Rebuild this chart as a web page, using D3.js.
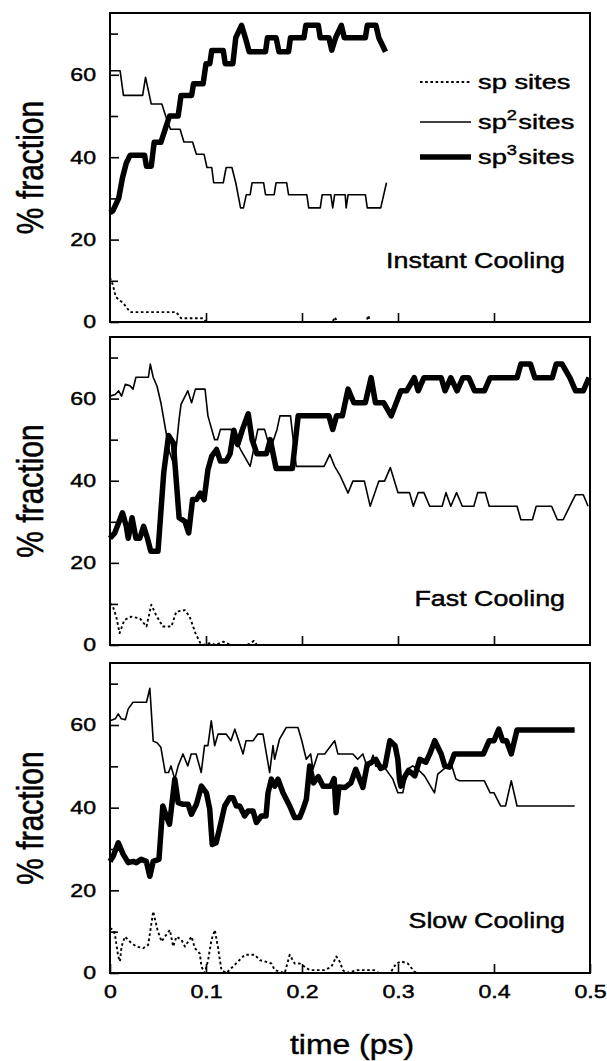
<!DOCTYPE html>
<html>
<head>
<meta charset="utf-8">
<script src="https://cdn.jsdelivr.net/npm/d3@7"></script>
<style>
body { margin: 0; background: #fff; }
svg text { font-family: "Liberation Sans", Arial, Helvetica, sans-serif; fill: #000; stroke: #000; stroke-width: 0.45px; }
</style>
</head>
<body>
<svg width="607" height="1061"></svg>
<script>
// ticks
var yMajor = [0, 20, 40, 60];
var yMinor = [10, 30, 50, 70];
var xInner = [0.1, 0.2, 0.3, 0.4];
var xLabels = [0, 0.1, 0.2, 0.3, 0.4, 0.5];
var panelNames = ["Instant Cooling", "Fast Cooling", "Slow Cooling"];

// [time (ps), % fraction]
var inst_sp = [[0,10.8],[0.003,9],[0.006,6.1],[0.014,4.5],[0.021,2.4],[0.069,2.4],[0.074,0.9],[0.097,0.9],[0.1,0],
  [0.232,0],[0.234,1.2],[0.237,0],[0.267,0],[0.269,1.6],[0.271,0]];
var inst_sp2 = [[0,61],[0.0105,61],[0.014,55],[0.034,55],[0.037,59.4],[0.043,52.9],[0.054,52.9],[0.058,50],[0.063,46.8],
  [0.073,46.8],[0.077,43.7],[0.086,43.7],[0.09,40.7],[0.098,40.7],[0.101,37.5],[0.106,37.5],[0.108,33.8],[0.118,33.8],
  [0.121,37.5],[0.127,37.5],[0.131,33.8],[0.136,27.7],[0.139,27.7],[0.142,30.9],[0.146,30.9],[0.148,33.8],[0.16,33.8],
  [0.162,30.9],[0.171,30.9],[0.173,33.8],[0.184,33.8],[0.186,30.9],[0.205,30.9],[0.207,27.7],[0.219,27.7],[0.221,30.9],
  [0.23,30.9],[0.232,27.7],[0.234,30.9],[0.245,30.9],[0.246,27.7],[0.248,30.9],[0.266,30.9],[0.268,27.7],[0.282,27.7],[0.288,33.8]];
var inst_sp3 = [[0,26.5],[0.003,27],[0.009,30],[0.013,35],[0.017,38.6],[0.021,40.5],[0.036,40.5],[0.038,37.8],[0.043,37.8],
  [0.046,43.6],[0.053,43.6],[0.0575,46.8],[0.062,50],[0.071,50],[0.074,55],[0.085,55],[0.087,57.8],[0.097,57.8],[0.1,62.7],
  [0.104,62.7],[0.106,65.9],[0.118,65.9],[0.12,62.7],[0.128,62.7],[0.131,69],[0.137,72],[0.141,69],[0.145,65.6],[0.162,65.6],
  [0.164,69],[0.173,69],[0.176,65.6],[0.186,65.6],[0.188,69],[0.202,69],[0.204,72],[0.217,72],[0.219,69],[0.228,69],
  [0.231,66],[0.235,69],[0.241,72],[0.244,69],[0.266,69],[0.268,72],[0.277,72],[0.28,69],[0.287,65.6]];

var fast_sp = [[0,10.2],[0.003,9.4],[0.0065,6.9],[0.01,2.9],[0.015,6.1],[0.022,6.9],[0.031,6.5],[0.038,4.5],[0.043,9.8],
  [0.048,7.3],[0.055,4.5],[0.064,4.5],[0.069,8.1],[0.078,8.5],[0.083,6.9],[0.089,2.9],[0.094,0.5],[0.097,0],[0.105,0.5],
  [0.11,0],[0.118,0.8],[0.121,0.5],[0.126,0],[0.143,0],[0.15,1],[0.153,0]];
var fast_sp2 = [[0,60.6],[0.0055,61],[0.009,61.9],[0.012,60.6],[0.016,63.5],[0.021,63.1],[0.024,62.3],[0.027,65.2],[0.04,65.2],
  [0.042,68.4],[0.045,65.2],[0.049,63],[0.053,59],[0.0575,53],[0.062,47],[0.067,43.5],[0.072,55],[0.074,58.6],[0.081,61.9],
  [0.085,59],[0.089,62.3],[0.099,62.3],[0.102,55.8],[0.109,50],[0.112,50],[0.115,52.5],[0.126,52.5],[0.136,47.6],[0.146,43.5],
  [0.154,52.5],[0.161,52.5],[0.167,47.6],[0.174,52.5],[0.177,55.8],[0.188,55.8],[0.194,43.5],[0.223,43.5],[0.229,46.4],
  [0.234,43.5],[0.24,41.1],[0.248,37],[0.253,39.9],[0.265,39.9],[0.271,33.8],[0.28,39.9],[0.286,39.9],[0.292,43.2],[0.3,37.1],
  [0.312,37.1],[0.316,33.8],[0.321,37.1],[0.327,37.1],[0.333,33.8],[0.346,33.8],[0.35,37.1],[0.355,33.8],[0.361,37.1],
  [0.367,33.8],[0.379,33.8],[0.383,37.1],[0.391,37.1],[0.395,33.8],[0.424,33.8],[0.428,30.5],[0.44,30.5],[0.444,33.8],
  [0.46,33.8],[0.466,30.5],[0.472,30.5],[0.479,33.8],[0.485,36.6],[0.493,36.6],[0.498,33.8]];
var fast_sp3 = [[0,26],[0.005,27.3],[0.013,32.2],[0.017,28.9],[0.019,26],[0.023,31],[0.027,26],[0.031,26],[0.035,28.9],
  [0.039,26],[0.0425,22.8],[0.05,22.8],[0.056,42],[0.061,51],[0.066,49.2],[0.072,31],[0.078,30.1],[0.082,27.3],[0.086,35.4],
  [0.09,35.4],[0.094,37],[0.098,35.4],[0.102,42.7],[0.106,46],[0.111,47.6],[0.115,44.8],[0.121,44.8],[0.125,46.5],[0.129,52.3],
  [0.133,48.8],[0.138,52.5],[0.144,56.3],[0.148,50],[0.153,46.6],[0.163,46.6],[0.167,50],[0.173,43],[0.19,43],[0.196,55.8],
  [0.228,55.8],[0.232,52.5],[0.236,55.8],[0.242,55.8],[0.248,62.3],[0.254,59],[0.266,59],[0.272,65.1],[0.2765,59],[0.285,59],
  [0.293,55.8],[0.303,61.9],[0.309,61.9],[0.317,65.1],[0.321,61.9],[0.327,65.1],[0.345,65.1],[0.349,61.9],[0.355,65.1],
  [0.3615,61.9],[0.3676,65.1],[0.3737,65.1],[0.3798,61.9],[0.39,61.9],[0.396,65.1],[0.424,65.1],[0.428,68.4],[0.438,68.4],
  [0.4425,65.1],[0.4607,65.1],[0.4648,68.4],[0.4709,68.4],[0.479,65.1],[0.485,61.9],[0.493,61.9],[0.499,65.1]];

var slow_sp = [[0,10.9],[0.0034,10.4],[0.0052,9.2],[0.0086,4],[0.0104,2.8],[0.012,6.4],[0.0156,8.8],[0.0225,7.2],[0.0277,6.4],
  [0.0346,6],[0.0398,6.8],[0.045,14.9],[0.0495,10.4],[0.0537,7.6],[0.0572,8.8],[0.0624,10.4],[0.0658,6.4],[0.0693,8.8],
  [0.0745,8],[0.078,6.4],[0.0849,8.8],[0.0884,6],[0.0936,4.7],[0.0953,1.5],[0.0988,0],[0.1022,3.1],[0.1057,8],[0.1092,10.4],
  [0.1126,6],[0.1161,0.7],[0.1213,0],[0.1265,1.2],[0.1334,2.8],[0.1404,4.4],[0.1508,4.4],[0.156,3.1],[0.1612,2.8],[0.1681,2.3],
  [0.1716,0.7],[0.182,0],[0.1872,4.4],[0.1924,2.3],[0.1976,2.3],[0.2028,1.5],[0.208,0.7],[0.2236,0.7],[0.2306,1.5],[0.2358,4],
  [0.2392,2.8],[0.2426,0.7],[0.2461,0],[0.258,0.7],[0.275,0.7],[0.28,0],[0.292,0],[0.2981,2.3],[0.3033,2.8],[0.3102,2.3],
  [0.3172,0.3],[0.3206,0]];
var slow_sp2 = [[0,61],[0.0055,61.5],[0.0086,62.7],[0.0118,61.5],[0.016,61.3],[0.019,63.9],[0.024,65.5],[0.038,65.5],
  [0.0415,68.9],[0.045,56.1],[0.049,55.7],[0.053,54.6],[0.0575,48.5],[0.061,48.5],[0.0635,50.1],[0.0675,46.9],[0.071,50.1],
  [0.076,53],[0.081,50.1],[0.0846,53],[0.0897,53],[0.095,48.5],[0.0985,55],[0.102,55],[0.1055,61],[0.109,55],[0.1126,57.8],
  [0.121,57.8],[0.126,56.2],[0.13,59],[0.1334,56.6],[0.1386,53],[0.1417,56.2],[0.149,56.2],[0.154,57.8],[0.1594,57.8],
  [0.1663,48.5],[0.1698,55],[0.1715,51.7],[0.1766,56.6],[0.1836,59.4],[0.1958,59.4],[0.1993,56.6],[0.2045,51.7],[0.209,53],
  [0.2114,49.3],[0.2166,53],[0.2236,53],[0.234,56.2],[0.2374,53],[0.246,53],[0.253,53],[0.258,51.7],[0.2634,53],[0.2686,49.3],
  [0.274,52.7],[0.277,50],[0.286,49.7],[0.2946,46.9],[0.2998,43.6],[0.305,43.6],[0.31,49.3],[0.3154,50.1],[0.3206,49.3],
  [0.3276,47.7],[0.338,43.6],[0.3414,48.1],[0.3518,50.1],[0.355,50.9],[0.3604,46.9],[0.364,46.5],[0.39,46.5],[0.396,43.6],
  [0.4,43.6],[0.407,40.4],[0.412,40.4],[0.418,46.5],[0.424,40.4],[0.484,40.4]];
var slow_sp3 = [[0,27],[0.0034,28.3],[0.0086,31.5],[0.0138,28.7],[0.019,26.7],[0.0242,27],[0.0274,26.7],[0.0325,27.5],
  [0.0378,27],[0.0415,23.4],[0.045,27],[0.051,27.5],[0.055,40.4],[0.0586,38],[0.062,36],[0.0675,46.9],[0.071,41.2],
  [0.0762,40.8],[0.0814,40.8],[0.0848,38.4],[0.09,40.8],[0.0952,45.2],[0.1004,43.6],[0.1039,39.6],[0.1065,31.1],[0.1105,31.5],
  [0.1143,35.1],[0.1195,40.4],[0.1247,42.4],[0.1282,42.4],[0.1316,40.4],[0.1351,40.4],[0.1403,38],[0.1438,39.2],[0.149,39.2],
  [0.1525,36.4],[0.1577,38],[0.1625,38],[0.1646,43.6],[0.1681,46.9],[0.1716,45.2],[0.175,46.9],[0.1802,43.6],[0.1872,40.4],
  [0.1924,37.6],[0.1976,37.6],[0.201,39.6],[0.2045,42],[0.208,50.1],[0.212,46],[0.217,47.5],[0.222,45.2],[0.23,45.2],
  [0.2335,47],[0.2355,38.8],[0.2385,45],[0.245,44.9],[0.251,46],[0.256,49.3],[0.2634,44.9],[0.268,50.5],[0.2722,50.9],
  [0.2769,51.7],[0.282,49.5],[0.2865,50],[0.2915,56.2],[0.297,55],[0.2998,51.7],[0.3015,46.9],[0.303,45.2],[0.307,47.5],
  [0.311,49],[0.3175,47.7],[0.3227,51.7],[0.329,51],[0.3331,53],[0.3383,56.2],[0.3418,54.5],[0.345,53],[0.3487,50.1],
  [0.3536,49.8],[0.3587,53],[0.389,53],[0.395,56.2],[0.4,56.2],[0.405,59],[0.409,56.2],[0.413,56.2],[0.418,53],[0.424,58.8],
  [0.484,58.8]];

var seriesNames = ["sp", "sp2", "sp3"];
var panelData = [
  [inst_sp, inst_sp2, inst_sp3],
  [fast_sp, fast_sp2, fast_sp3],
  [slow_sp, slow_sp2, slow_sp3]
];

// layout
var svg = d3.select("svg");
var left = 110, right = 590;
var panelTop = [13, 337, 663];
var panelBottom = [322, 645, 973];
var labelBase = [268, 606, 928];
var styles = {
  sp: { w: 1.9, dash: "2.6,2.6" },
  sp2: { w: 1.6, dash: null },
  sp3: { w: 5.5, dash: null }
};

var x = d3.scaleLinear().domain([0, 0.5]).range([left, right]);

for (var p = 0; p < 3; p++) {
  var y = d3.scaleLinear().domain([0, 75]).range([panelBottom[p], panelTop[p]]);
  var g = svg.append("g");

  // minor + major y ticks (inward)
  g.append("g")
    .attr("transform", "translate(" + left + ",0)")
    .call(d3.axisLeft(y).tickValues(yMinor).tickSize(-8).tickFormat(""))
    .call(function (a) { a.select(".domain").remove(); });

  var ya = g.append("g")
    .attr("transform", "translate(" + left + ",0)")
    .call(d3.axisLeft(y).tickValues(yMajor).tickSize(-9).tickPadding(14).tickFormat(d3.format("d")))
    .call(function (a) { a.select(".domain").remove(); });
  ya.selectAll("text")
    .attr("x", -14 / 1.25)
    .attr("transform", "scale(1.25,1)")
    .style("font-size", "18.5px");

  var xa = g.append("g")
    .attr("transform", "translate(0," + panelBottom[p] + ")");
  if (p == 2) {
    xa.call(d3.axisBottom(x).tickValues(xLabels).tickSize(-9).tickPadding(12).tickFormat(function (d) { return String(d); }));
    xa.selectAll(".tick text")
      .attr("transform", "scale(1.25,1)")
      .style("font-size", "18.5px");
  } else {
    xa.call(d3.axisBottom(x).tickValues(xInner).tickSize(-9).tickFormat(""));
  }
  xa.select(".domain").remove();
  g.selectAll(".tick line").attr("stroke", "#000").attr("stroke-width", 1.6);

  // data lines
  var line = d3.line()
    .x(function (d) { return x(d[0]); })
    .y(function (d) { return y(d[1]); });

  for (var s = 2; s >= 0; s--) {
    var st = styles[seriesNames[s]];
    g.append("path")
      .datum(panelData[p][s])
      .attr("d", line)
      .attr("fill", "none")
      .attr("stroke", "#000")
      .attr("stroke-width", st.w)
      .attr("stroke-linejoin", "round")
      .attr("stroke-dasharray", st.dash);
  }

  // frame
  g.append("rect")
    .attr("x", left).attr("y", panelTop[p])
    .attr("width", right - left).attr("height", panelBottom[p] - panelTop[p])
    .attr("fill", "none").attr("stroke", "#000").attr("stroke-width", 2);

  // panel label
  g.append("text")
    .attr("transform", "translate(565," + labelBase[p] + ") scale(1.22,1)")
    .attr("text-anchor", "end")
    .style("font-size", "22px")
    .text(panelNames[p]);

  // y label
  g.append("text")
    .attr("transform", "translate(29," + (panelTop[p] + panelBottom[p]) / 2 + ") scale(1.25,1) rotate(-90)")
    .attr("text-anchor", "middle")
    .attr("dy", "0.36em")
    .style("font-size", "30px")
    .text("% fraction");
}

// legend (top panel)
var legY = [82, 122, 157];
var leg = svg.append("g");
for (var i = 0; i < 3; i++) {
  var st = styles[seriesNames[i]];
  leg.append("line")
    .attr("x1", 420).attr("x2", 471)
    .attr("y1", legY[i]).attr("y2", legY[i])
    .attr("stroke", "#000")
    .attr("stroke-width", st.w)
    .attr("stroke-dasharray", st.dash);
  var t = leg.append("text")
    .attr("transform", "translate(478," + (legY[i] + 6.5) + ") scale(1.3,1)")
    .style("font-size", "21px");
  if (i == 0) {
    t.text("sp sites");
  } else {
    t.append("tspan").text("sp");
    t.append("tspan").attr("dy", -9).style("font-size", "14px").text(i == 1 ? "2" : "3");
    t.append("tspan").attr("dy", 9).attr("dx", 1).text("sites");
  }
}

// x label
svg.append("text")
  .attr("transform", "translate(352,1054) scale(1.14,1)")
  .attr("text-anchor", "middle")
  .style("font-size", "28px")
  .text("time (ps)");
</script>
</body>
</html>
